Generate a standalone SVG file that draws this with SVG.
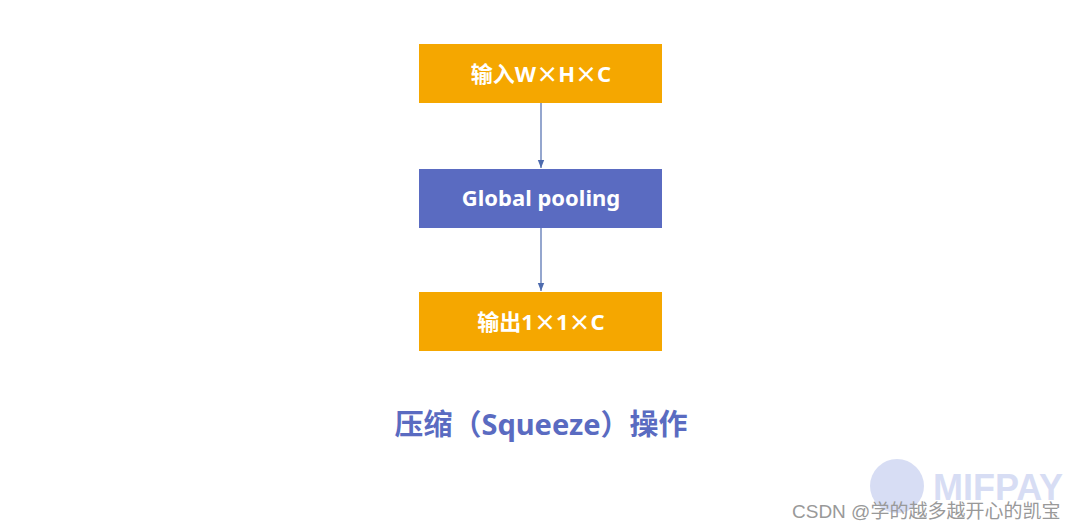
<svg xmlns="http://www.w3.org/2000/svg" width="1080" height="530" viewBox="0 0 1080 530">
<style>
.o{fill:#F5A700}.b{fill:#5A6BC1}
.t{font-family:"Noto Sans","Noto Sans CJK SC",sans-serif;font-weight:bold;font-size:22px;fill:#fff;text-anchor:middle}
.x{font-family:"Noto Sans CJK SC",sans-serif}
.c{stroke:#4E6BAE;stroke-width:1.2;fill:none}
</style>
<defs><marker id="a" viewBox="0 0 10 10" refX="10" refY="5" markerWidth="7" markerHeight="7" orient="auto"><path d="M0,1L10,5L0,9z" fill="#4E6BAE"/></marker></defs>
<rect width="1080" height="530" fill="#fff"/>
<g id="connectors">
<line class="c" x1="541" y1="103" x2="541" y2="168" marker-end="url(#a)"/>
<line class="c" x1="541" y1="228" x2="541" y2="291" marker-end="url(#a)"/>
</g>
<g id="n1"><rect class="o" x="419" y="44" width="243" height="59"/><text class="t" x="541" y="82">输入W<tspan class="x">×</tspan>H<tspan class="x">×</tspan>C</text></g>
<g id="n2"><rect class="b" x="419" y="169" width="243" height="59"/><text class="t" x="541" y="206">Global pooling</text></g>
<g id="n3"><rect class="o" x="419" y="292" width="243" height="59"/><text class="t" x="541" y="330">输出1<tspan class="x">×</tspan>1<tspan class="x">×</tspan>C</text></g>
<text x="541" y="435" style="font-family:'Noto Sans','Noto Sans CJK SC',sans-serif;font-weight:bold;font-size:29px;fill:#5A6BC1;text-anchor:middle">压缩（Squeeze）操作</text>
<g id="watermark" opacity="0.35">
<circle cx="897" cy="486" r="27" fill="#8FA0E0"/>
<text x="933" y="500" style="font-family:'Liberation Sans',sans-serif;font-weight:bold;font-size:36px;fill:#8FA0E0">MIFPAY</text>
</g>
<text x="792" y="518" style="font-family:'Liberation Sans','Noto Sans CJK SC',sans-serif;font-size:19px;fill:#999">CSDN @学的越多越开心的凯宝</text>
</svg>
